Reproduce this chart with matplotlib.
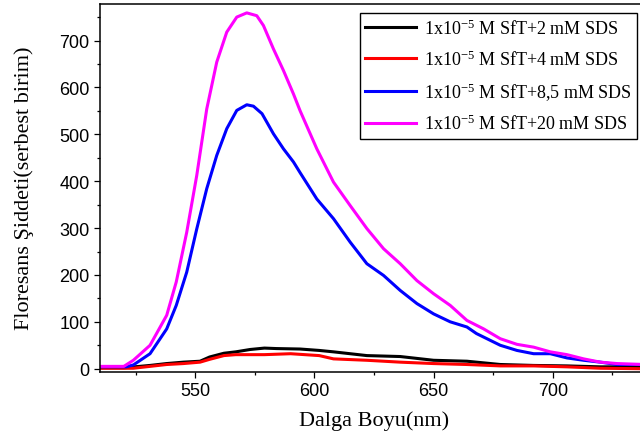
import matplotlib
matplotlib.use("Agg")
import matplotlib.pyplot as plt
from matplotlib.ticker import MultipleLocator

# emission spectra (wavelength nm, intensity)
wl_black = [510, 520, 531, 538, 545, 552, 556, 562, 567, 573, 579, 584, 594, 602,
            608, 622, 636, 650, 664, 678, 692, 706, 720, 738]
int_black = [2, 2, 7, 11, 14, 16, 25, 33, 36, 41, 44, 43, 42, 39,
             36, 28, 26, 18, 16, 9, 7, 6, 4, 4]

wl_red = [510, 524, 531, 538, 545, 552, 556, 562, 567, 573, 579, 590, 602,
          608, 622, 636, 650, 664, 678, 692, 706, 720, 738]
int_red = [1, 1, 5, 9, 11, 14, 20, 28, 30, 30, 30, 32, 28,
           21, 18, 14, 11, 9, 6, 6, 4, 1, 0]

wl_blue = [510, 521, 524, 531, 538, 542, 546.4, 550.6, 554.8, 559, 563.2, 567.4, 571.6,
           574.4, 578, 582.8, 587, 591.2, 594, 601, 608, 615, 622, 629, 636, 643, 650,
           657, 664, 668, 678, 685, 692, 699, 706, 713, 720, 727, 738]
int_blue = [4, 4, 8, 32, 85, 135, 206, 298, 384, 455, 512, 551, 563,
            560, 544, 501, 469, 441, 418, 362, 320, 270, 224, 199, 167, 139, 117,
            100, 89, 75, 50, 39, 32, 32, 23, 18, 14, 9, 9]

wl_mag = [510, 520, 524, 531, 538, 542, 546.4, 550.6, 554.8, 559, 563.2, 567.4, 571.6,
          575.8, 578.6, 582.8, 587, 591.2, 594, 601, 608, 615, 622, 629, 636, 643, 650,
          657, 664, 671, 678, 685, 692, 699, 706, 713, 720, 727, 738]
int_mag = [5, 5, 18, 50, 114, 185, 291, 412, 554, 654, 718, 750, 759,
           753, 732, 682, 636, 586, 550, 469, 398, 348, 299, 256, 224, 188, 160,
           135, 103, 85, 64, 52, 46, 36, 30, 21, 14, 11, 9]

labels = ["1x10$^{-5}$ M SfT+2 mM SDS",
          "1x10$^{-5}$ M SfT+4 mM SDS",
          "1x10$^{-5}$ M SfT+8,5 mM SDS",
          "1x10$^{-5}$ M SfT+20 mM SDS"]
colors = ["black", "red", "blue", "magenta"]

plt.rcParams["mathtext.fontset"] = "custom"
plt.rcParams["mathtext.rm"] = "Liberation Serif"
plt.rcParams["mathtext.it"] = "Liberation Serif:italic"

fig = plt.figure(figsize=(6.4, 4.39), dpi=100)
# axes box runs past the right edge of the picture, as in the reference
ax = fig.add_axes([100 / 640, 66 / 439, 548 / 640, 368.5 / 439])

series = [(wl_black, int_black), (wl_red, int_red), (wl_blue, int_blue), (wl_mag, int_mag)]
for (x, y), c, lab in zip(series, colors, labels):
    ax.plot(x, y, color=c, lw=2.2, label=lab)

ax.set_xlim(510, 740)
ax.set_ylim(-7, 779)
ax.xaxis.set_major_locator(MultipleLocator(50))
ax.xaxis.set_minor_locator(MultipleLocator(25))
ax.yaxis.set_major_locator(MultipleLocator(100))
ax.yaxis.set_minor_locator(MultipleLocator(50))
ax.tick_params(which="both", direction="out", width=0.9, labelsize=13)
ax.tick_params(which="major", length=4)
ax.tick_params(which="minor", length=2.5)
for lab in ax.get_xticklabels() + ax.get_yticklabels():
    lab.set_fontfamily("Liberation Sans")
for s in ax.spines.values():
    s.set_linewidth(1.1)

ax.set_xlabel("Dalga Boyu(nm)", family="Liberation Serif", fontsize=16, labelpad=8)
ax.set_ylabel("Floresans Şiddeti(serbest birim)", family="Liberation Serif",
              fontsize=16, labelpad=18)

leg = ax.legend(loc="upper right", bbox_to_anchor=(637 / 640, 1 - 14 / 439),
                bbox_transform=fig.transFigure, borderaxespad=0,
                prop={"family": "Liberation Serif", "size": 13},
                fancybox=False, edgecolor="black", framealpha=1,
                handlelength=2.8, handletextpad=0.45, labelspacing=0.64,
                borderpad=0.3)
leg.get_frame().set_linewidth(1.0)

fig.savefig("out.png", dpi=100)
